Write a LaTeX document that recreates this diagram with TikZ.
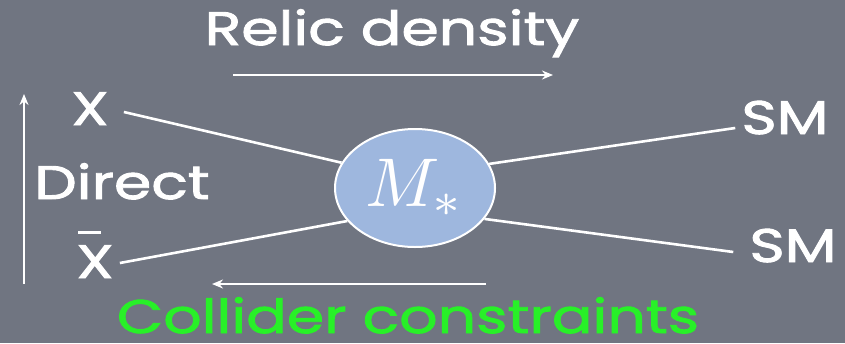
\documentclass[tikz,border=0pt]{standalone}
\usepackage{amsmath}
\usepackage{graphicx}
\usepackage{fontspec}
\newfontfamily\chalkfont{Poppins}[FakeStretch=1.28, FakeBold=2]
\usepackage{xcolor}
\usetikzlibrary{shapes.geometric,arrows.meta,positioning}

\definecolor{boardgray}{RGB}{112,117,129}
\definecolor{blobblue}{RGB}{158,183,222}
\definecolor{chalkgreen}{RGB}{40,240,40}

% chalk bar over a letter
\newcommand{\chalkbar}[1]{\rlap{\hspace{0.04em}\raisebox{0.93em}{\rule{0.49em}{0.08em}}}#1}

\begin{document}
\begin{tikzpicture}[
    x=1pt, y=-1pt,
    chalk/.style={text=white, inner sep=1pt, anchor=base, font=\chalkfont\fontsize{47}{50}\selectfont},
    blob/.style={ellipse, draw=white, line width=2pt, fill=blobblue, minimum width=160pt, minimum height=118pt, inner sep=0pt, text=white},
    wire/.style={draw=white, line width=2.6pt},
    arrow/.style={draw=white, line width=2.6pt, -{Stealth[length=11pt, width=9pt]}}
]

% Board
\fill[boardgray] (0,0) rectangle (845,343);
\useasboundingbox (0,0) rectangle (845,343);

% Central vertex
\node[blob] (mstar) at (415,188) {\scalebox{6.9}{$M_*$}};

% Particles
\node[chalk] (x) at (90,125) {X};
\node[chalk] (xbar) at (95,278) {\chalkbar{X}};
\node[chalk] (smtop) at (785,134) {SM};
\node[chalk] (smbot) at (793,262) {SM};

% Process labels
\node[chalk] (relic) at (392,45) {Relic density};
\node[chalk] (direct) at (122,199) {Direct};
\node[chalk, text=chalkgreen] (collider) at (408,333) {Collider constraints};

% Arrow ends
\coordinate (relicl) at (233,75);
\coordinate (relicr) at (553,75);
\coordinate (collr) at (486,284);
\coordinate (colll) at (212,284);
\coordinate (dirbot) at (24,284);
\coordinate (dirtop) at (24,94);

% Legs
\draw[wire] ([xshift=14pt,yshift=13pt]x.base east) -- (mstar.161);
\draw[wire] ([xshift=5pt,yshift=15pt]xbar.base east) -- (mstar.206);
\draw[wire] (mstar.18) -- ([xshift=-5pt,yshift=6pt]smtop.base west);
\draw[wire] (mstar.336) -- ([xshift=-15pt,yshift=10pt]smbot.base west);

% Arrows
\draw[arrow] (relicl) -- (relicr);
\draw[arrow] (collr) -- (colll);
\draw[arrow] (dirbot) -- (dirtop);

\end{tikzpicture}
\end{document}
